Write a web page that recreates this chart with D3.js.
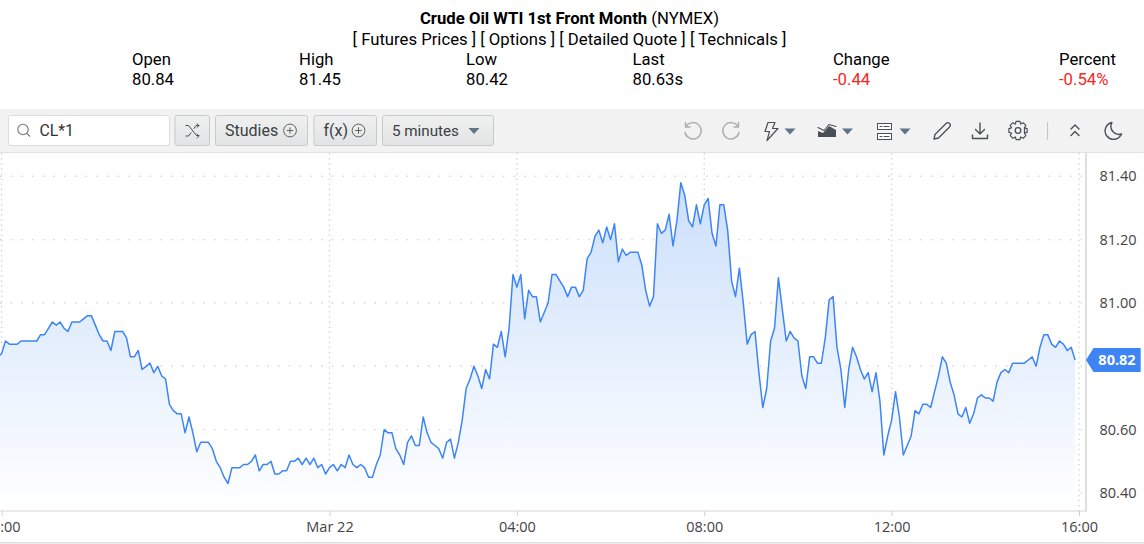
<!DOCTYPE html>
<html><head><meta charset="utf-8">
<script src="https://cdn.jsdelivr.net/npm/d3@7"></script>
<style>html,body{margin:0;padding:0;background:#fff;overflow:hidden}svg{display:block}text{font-family:Roboto,sans-serif}</style>
</head><body><svg id="c" width="1144" height="544"></svg>
<script>
const prices = [80.83,
80.84,80.88,80.87,80.87,80.87,80.88,80.88,80.88,80.88,80.88,80.90,80.90,80.92,80.94,80.93,80.94,80.92,80.91,80.94,80.94,
80.94,80.95,80.96,80.96,80.93,80.90,80.88,80.88,80.85,80.91,80.91,80.91,80.89,80.83,80.83,80.85,80.79,80.80,80.81,80.78,
80.80,80.77,80.76,80.68,80.66,80.65,80.65,80.59,80.64,80.59,80.53,80.56,80.56,80.56,80.54,80.50,80.48,80.45,80.43,80.48,
80.48,80.48,80.49,80.49,80.50,80.52,80.47,80.49,80.49,80.50,80.46,80.46,80.47,80.47,80.50,80.50,80.51,80.49,80.51,80.49,
80.51,80.48,80.49,80.46,80.48,80.49,80.47,80.49,80.48,80.52,80.49,80.48,80.49,80.48,80.45,80.45,80.49,80.52,80.60,80.59,
80.59,80.54,80.52,80.49,80.56,80.58,80.55,80.55,80.64,80.59,80.56,80.55,80.54,80.51,80.56,80.57,80.51,80.56,80.63,80.73,
80.76,80.80,80.77,80.73,80.79,80.76,80.87,80.86,80.91,80.83,80.92,81.09,81.05,81.09,80.95,81.04,81.02,81.02,80.94,80.97,
81.00,81.09,81.09,81.07,81.05,81.02,81.05,81.05,81.02,81.04,81.14,81.16,81.21,81.23,81.19,81.24,81.20,81.25,81.13,81.17,
81.15,81.16,81.16,81.16,81.12,81.04,80.99,81.02,81.25,81.22,81.23,81.28,81.18,81.26,81.38,81.34,81.26,81.24,81.31,81.25,
81.31,81.33,81.22,81.18,81.31,81.31,81.23,81.07,81.02,81.11,81.00,80.87,80.90,80.91,80.78,80.67,80.73,80.88,80.92,81.08,
80.98,80.88,80.91,80.89,80.88,80.77,80.73,80.83,80.83,80.81,80.81,80.89,81.01,81.02,80.86,80.79,80.67,80.79,80.86,80.83,
80.79,80.76,80.78,80.72,80.78,80.69,80.52,80.58,80.63,80.72,80.64,80.52,80.55,80.58,80.66,80.65,80.68,80.68,80.67,80.72,
80.77,80.83,80.81,80.75,80.71,80.65,80.64,80.67,80.62,80.65,80.70,80.71,80.70,80.70,80.69,80.75,80.78,80.79,80.78,80.81,
80.81,80.81,80.81,80.82,80.83,80.80,80.86,80.90,80.90,80.87,80.86,80.88,80.87,80.85,80.86,80.82];
const firstBar = -1;
const xTickBars = [0,84,132,180,228,276];
const xTickLabels = ["16:00","Mar 22","04:00","08:00","12:00","16:00"];
const yTicks = [80.4,80.6,80.8,81.0,81.2,81.4];
const yLabelTicks = [80.4,80.6,81.0,81.2,81.4];
const lastLabel = "80.82";
const quoteHeads = ["Open","High","Low","Last","Change","Percent"];
const quoteVals = ["80.84","81.45","80.42","80.63s","-0.44","-0.54%"];
const quoteX = [132,299,466,632.5,833,1059];
const links = "[ Futures Prices ] [ Options ] [ Detailed Quote ] [ Technicals ]";

const svg = d3.select("#c");
const plot = {l:0,r:1086,t:153,b:511};
const x = d3.scaleLinear().domain([0,276]).range([1.6,1079]);
const y = d3.scaleLinear().domain([80.4,81.4]).range([493,176.3]);
const bar = i => i + firstBar;

const defs = svg.append("defs");
const g = defs.append("linearGradient").attr("id","fill").attr("gradientUnits","userSpaceOnUse")
  .attr("x1",0).attr("x2",0).attr("y1",y(81.38)).attr("y2",plot.b);
g.append("stop").attr("offset",0).attr("stop-color","#cbdffb");
g.append("stop").attr("offset",1).attr("stop-color","#ffffff");
defs.append("clipPath").attr("id","clip").append("rect").attr("x",0).attr("y",plot.t).attr("width",plot.r).attr("height",plot.b-plot.t);

// header
const head = svg.append("g").attr("fill","#000").attr("font-size",16.7);
const t = head.append("text").attr("x",569.5).attr("y",24).attr("text-anchor","middle");
t.append("tspan").attr("font-weight",700).text("Crude Oil WTI 1st Front Month");
t.append("tspan").text(" (NYMEX)");
head.append("text").attr("x",569.5).attr("y",44.5).attr("text-anchor","middle").text(links);
quoteHeads.forEach((h,i)=>{
  head.append("text").attr("x",quoteX[i]).attr("y",64.5).text(h);
  head.append("text").attr("x",quoteX[i]).attr("y",84.5).attr("fill",i>=4?"#f5271f":"#000").text(quoteVals[i]);
});

// toolbar
const tb = svg.append("g");
tb.append("rect").attr("x",0).attr("y",109).attr("width",1144).attr("height",44).attr("fill","#f2f2f2");
tb.append("line").attr("x1",0).attr("x2",1144).attr("y1",152.5).attr("y2",152.5).attr("stroke","#e2e2e2");
tb.append("rect").attr("x",8.5).attr("y",115.5).attr("width",161).attr("height",30).attr("rx",2).attr("fill","#fff").attr("stroke","#dcdcdc");
const ic = "#4a4f57";
tb.append("circle").attr("cx",23).attr("cy",129.5).attr("r",5.2).attr("fill","none").attr("stroke","#777").attr("stroke-width",1.1);
tb.append("line").attr("x1",27).attr("y1",133.5).attr("x2",30).attr("y2",136.5).attr("stroke","#777").attr("stroke-width",1.1);
tb.append("text").attr("x",39.5).attr("y",136).attr("font-size",15.8).attr("fill","#333").text("CL*1");
const btnDefs=[[174.5,34.5,"",0],[215,92,"Studies",16],[313.5,62.5,"f(x)",16],[382,111,"5 minutes",15.2]];
const bg = defs.append("linearGradient").attr("id","btn").attr("x1",0).attr("x2",0).attr("y1",0).attr("y2",1);
bg.append("stop").attr("offset",0).attr("stop-color","#f0f0f0");
bg.append("stop").attr("offset",1).attr("stop-color","#e2e3e4");
btnDefs.forEach(b=>{
  tb.append("rect").attr("x",b[0]+.5).attr("y",115.5).attr("width",b[1]).attr("height",30).attr("rx",2).attr("fill","url(#btn)").attr("stroke","#c8c9ca");
  if(b[2]) tb.append("text").attr("x",b[0]+10).attr("y",136).attr("font-size",b[3]).attr("fill","#3a3f45").text(b[2]);
});
const plus=(cx)=>{tb.append("circle").attr("cx",cx).attr("cy",130.5).attr("r",6.4).attr("fill","none").attr("stroke","#555").attr("stroke-width",.9);
  tb.append("path").attr("d",`M${cx-3.2} 130.5H${cx+3.2}M${cx} 127.3V133.7`).attr("stroke","#555").attr("stroke-width",.9);};
plus(290);plus(358.5);
const P=(d,o={})=>tb.append("path").attr("d",d).attr("fill",o.fill||"none").attr("stroke",o.fill&&!o.stroke?"none":(o.stroke||ic)).attr("stroke-width",o.sw||1.3).attr("stroke-linejoin","round").attr("stroke-linecap","round");
P("M186 125.500h2.500l8 10h2.500M186 136h2.500l2.500-3.200M194 128.500l2-3h3M197 123.800l2 1.800-2 1.800M197 134.200l2 1.800-2 1.800",{sw:1});
const caret=(cx,cy,c)=>P(`M${cx-5.5} ${cy-3}h11l-5.500 6z`,{fill:c});
caret(474,131,"#5f7389");
// undo / redo
P("M686 126.5a8.200 8.200 0 1 1-1 6M685.500 122.500v4.500h4.500",{stroke:"#adadad",sw:1.4});
P("M738 126.500a8.200 8.200 0 1 0 1 6M738.500 122.500v4.500h-4.500",{stroke:"#adadad",sw:1.4});
// bolt
P("M768 122.500h7l-2.500 6h5.500l-11 12 2.500-9h-4.500z",{sw:1.2});
caret(790,131.500,"#5f7389");
// area chart
P("M818 137v-6l5 2 6-7 7 4v7z",{fill:ic});
P("M818 127.500l6 3 5-6 7 2",{sw:1.1});
caret(847.500,131.500,"#5f7389");
// list
tb.append("rect").attr("x",877.500).attr("y",123.500).attr("width",14).attr("height",6).attr("fill","#fff").attr("stroke",ic);
tb.append("rect").attr("x",877.500).attr("y",133.500).attr("width",14).attr("height",6).attr("fill","#fff").attr("stroke",ic);
P("M880 126.500h2M884 126.500h5M880 136.500h2M884 136.500h5",{sw:1});
caret(905,131.500,"#5f7389");
// pencil
P("M934 139l1-4.500 11-11c1-1 2.500-1 3.500 0s1 2.500 0 3.500l-11 11z",{sw:1.3});
// download
P("M980 123v11M975.500 129.500l4.500 4.500 4.500-4.500M972.500 135v3.500h15v-3.500",{sw:1.4});
// gear
tb.append("circle").attr("cx",1018).attr("cy",130.500).attr("r",2.800).attr("fill","none").attr("stroke",ic).attr("stroke-width",1.3);
tb.append("path").attr("d",d3.range(0,361,45).map((a,i)=>{const f=q=>q*Math.PI/180,R=9.300,r=7;
  return `${i?"L":"M"}${1018+r*Math.cos(f(a-22))} ${130.500+r*Math.sin(f(a-22))}L${1018+R*Math.cos(f(a-12))} ${130.500+R*Math.sin(f(a-12))}L${1018+R*Math.cos(f(a+12))} ${130.500+R*Math.sin(f(a+12))}L${1018+r*Math.cos(f(a+22))} ${130.500+r*Math.sin(f(a+22))}`}).join("")+"Z")
  .attr("fill","none").attr("stroke",ic).attr("stroke-width",1.2).attr("stroke-linejoin","round");
tb.append("line").attr("x1",1047.500).attr("x2",1047.500).attr("y1",122).attr("y2",140).attr("stroke","#c6c6c6").attr("stroke-width",1.2);
P("M1071 129l4-4 4 4M1071 135.500l4-4 4 4",{sw:1.4});
P("M1112 122.500a8.500 8.500 0 1 0 9.500 11.500a8 8 0 0 1-9.500-11.500z",{sw:1.4});

// grid
const grid = svg.append("g").attr("fill","none").attr("stroke","#d6d6d6").attr("stroke-width",1.4);
grid.selectAll("line.h").data(yTicks).join("line").attr("x1",0).attr("x2",1082).attr("y1",d=>y(d)).attr("y2",d=>y(d)).attr("stroke-dasharray","1.500 9.200");
grid.selectAll("line.v").data(xTickBars).join("line").attr("x1",d=>x(d)).attr("x2",d=>x(d)).attr("y1",plot.t).attr("y2",plot.b).attr("stroke-dasharray","1.500 3.600");

// series
const series = prices.map((v,i)=>({b:bar(i),v}));
const pl = svg.append("g").attr("clip-path","url(#clip)");
pl.append("path").datum(series).attr("fill","url(#fill)")
  .attr("d",d3.area().x(d=>x(d.b)).y0(plot.b).y1(d=>y(d.v)));
pl.append("path").datum(series).attr("fill","none").attr("stroke","#3d85f5").attr("stroke-width",1.5).attr("stroke-linejoin","round")
  .attr("d",d3.line().x(d=>x(d.b)).y(d=>y(d.v)));

// axes
const ax = svg.append("g").attr("transform",`translate(0,${plot.b})`)
  .call(d3.axisBottom(x).tickValues(xTickBars).tickFormat((d,i)=>xTickLabels[i]).tickSize(5).tickPadding(6));
ax.select(".domain").remove();
ax.selectAll("line").attr("stroke","#d0d0d0");
ax.selectAll("text").attr("font-size",14.500).attr("fill","#444").style("font-family","'Open Sans',sans-serif");
const ay = svg.append("g").attr("transform",`translate(${plot.r},0)`)
  .call(d3.axisRight(y).tickValues(yLabelTicks).tickFormat(d3.format(".2f")).tickSize(0).tickPadding(13.500));
ay.select(".domain").remove();
ay.selectAll("text").attr("font-size",14.500).attr("fill","#444").style("font-family","'Open Sans',sans-serif");
svg.append("line").attr("x1",plot.r).attr("x2",plot.r).attr("y1",plot.t).attr("y2",plot.b+.5).attr("stroke","#dcdcdc").attr("stroke-width",1.800);
svg.append("line").attr("x1",0).attr("x2",plot.r+.7).attr("y1",plot.b).attr("y2",plot.b).attr("stroke","#d6d6d6").attr("stroke-width",1.200);
svg.append("line").attr("x1",0).attr("x2",1144).attr("y1",542.800).attr("y2",542.800).attr("stroke","#d6d6d6").attr("stroke-width",1.200);

// last price flag
const ly = y(+lastLabel);
svg.append("path").attr("d",`M1086 ${ly}l7.500-12h47.200v24h-47.200z`).attr("fill","#3d85f5");
svg.append("text").attr("x",1117).attr("y",ly+5.200).attr("text-anchor","middle").attr("font-size",14.500).attr("font-weight",700).attr("fill","#fff").style("font-family","'Open Sans',sans-serif").text(lastLabel);
</script></body></html>
